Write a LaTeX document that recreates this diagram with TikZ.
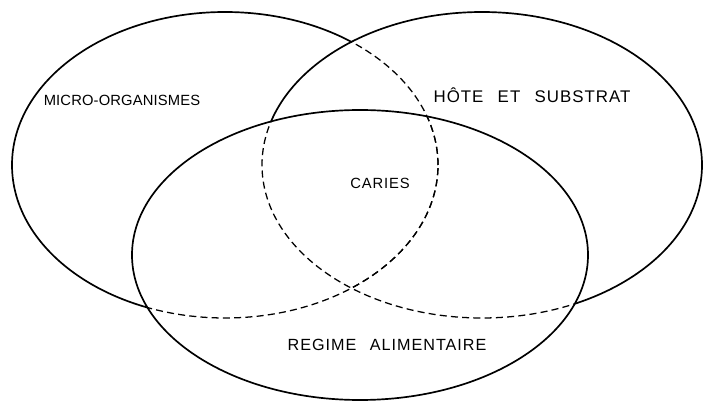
\documentclass[tikz,border=0pt]{standalone}
\usepackage{fontspec}
\newfontfamily\handfont[LetterSpace=6,WordSpace=2.5]{Liberation Sans}
\newfontfamily\handnarrow[LetterSpace=1]{Liberation Sans}

\begin{document}
\begin{tikzpicture}[x=0.025cm, y=0.025cm, venn/.style={line width=1.2pt}, hidden/.style={line width=0.9pt, dash pattern=on 5pt off 3pt}, setlabel/.style={font=\handfont\fontsize{#1}{12}\selectfont, inner sep=1pt}, setlabel/.default=10.5]
\useasboundingbox (0,0) rectangle (703,401);
\coordinate (micro) at (225,236);
\coordinate (host) at (482,236);
\coordinate (diet) at (360,146);
% hidden arcs: micro inside host or diet, host inside diet
\begin{scope}
\clip (diet) ellipse [x radius=228, y radius=145];
\draw[hidden] (host) ellipse [x radius=220, y radius=153];
\draw[hidden] (micro) ellipse [x radius=213, y radius=153];
\end{scope}
\begin{scope}
\clip (host) ellipse [x radius=220, y radius=153];
\draw[hidden] (micro) ellipse [x radius=213, y radius=153];
\end{scope}
\begin{scope}[even odd rule]
\clip (-10,-10) rectangle (713,411) (diet) ellipse [x radius=228, y radius=145];
\draw[venn] (host) ellipse [x radius=220, y radius=153];
\begin{scope}
\clip (-10,-10) rectangle (713,411) (host) ellipse [x radius=220, y radius=153];
\draw[venn] (micro) ellipse [x radius=213, y radius=153];
\end{scope}
\end{scope}
\draw[venn] (diet) ellipse [x radius=228, y radius=145];
\node[setlabel, font=\handnarrow\fontsize{10.5}{12}\selectfont] (microlabel) at (122,301) {MICRO-ORGANISMES};
\node[setlabel=12] (hostlabel) at (532,306) {HÔTE ET SUBSTRAT};
\node[setlabel] (caries) at (380,218) {CARIES};
\node[setlabel=11.5] (dietlabel) at (387,56) {REGIME ALIMENTAIRE};
\end{tikzpicture}
\end{document}
